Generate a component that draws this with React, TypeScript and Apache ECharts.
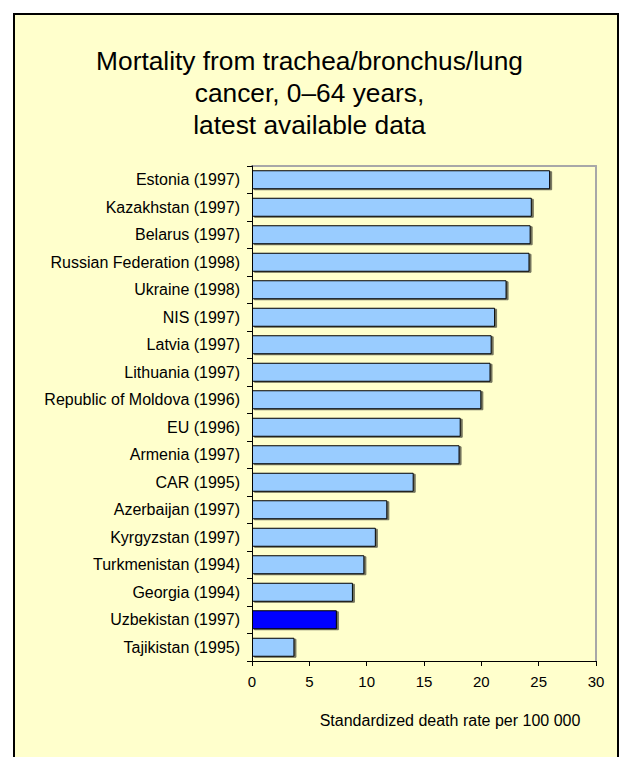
import React, { useEffect, useRef } from "react";
import * as echarts from "echarts";

const categories = [
  "Estonia (1997)",
  "Kazakhstan (1997)",
  "Belarus (1997)",
  "Russian Federation (1998)",
  "Ukraine (1998)",
  "NIS (1997)",
  "Latvia (1997)",
  "Lithuania (1997)",
  "Republic of Moldova (1996)",
  "EU (1996)",
  "Armenia (1997)",
  "CAR (1995)",
  "Azerbaijan (1997)",
  "Kyrgyzstan (1997)",
  "Turkmenistan (1994)",
  "Georgia (1994)",
  "Uzbekistan (1997)",
  "Tajikistan (1995)",
];
const values = [26.0, 24.4, 24.3, 24.2, 22.2, 21.2, 20.9, 20.8, 20.0, 18.2, 18.1, 14.1, 11.8, 10.8, 9.8, 8.8, 7.4, 3.7];
const highlighted = "Uzbekistan (1997)";
const xTicks = { min: 0, max: 30, interval: 5 };
const titleText = "Mortality from trachea/bronchus/lung\ncancer, 0\u201364 years,\nlatest available data";
const xAxisName = "Standardized death rate per 100 000";

const FONT = "'Liberation Sans', Arial, sans-serif";

export default function App() {
  const ref = useRef<HTMLDivElement>(null);
  useEffect(() => {
    document.body.style.margin = "0";
    if (!ref.current) return;
    const chart = echarts.init(ref.current, null, { renderer: "svg" });
    const data = categories.map((c, i) => ({
      value: values[i],
      itemStyle: c === highlighted ? { color: "#0000FF" } : undefined,
    }));
    chart.setOption({
      animation: false,
      backgroundColor: "#ffffff",
      graphic: [
        {
          type: "rect",
          z: -10,
          shape: { x: 14, y: 14, width: 604, height: 800 },
          style: { fill: "#FFFFCC", stroke: "#000000", lineWidth: 2 },
        },
      ],
      title: {
        text: titleText,
        left: "center",
        top: 45,
        padding: [0, 0, 0, 11],
        textStyle: {
          fontFamily: FONT,
          fontSize: 26.3,
          fontWeight: "normal",
          color: "#000000",
          lineHeight: 32,
          align: "center",
        },
      },
      grid: { left: 252, right: 23, top: 166, bottom: 96 },
      xAxis: [
        {
          type: "value",
          min: xTicks.min,
          max: xTicks.max,
          interval: xTicks.interval,
          position: "bottom",
          axisLine: { show: true, onZero: false, lineStyle: { color: "#000000", width: 1 } },
          axisTick: { show: true, inside: false, length: 5, lineStyle: { color: "#000000" } },
          axisLabel: { color: "#000000", fontFamily: FONT, fontSize: 15, margin: 13 },
          splitLine: { show: false },
          name: xAxisName,
          nameLocation: "middle",
          nameGap: 51,
          nameTextStyle: { color: "#000000", fontFamily: FONT, fontSize: 16, padding: [0, 0, 0, 52] },
          z: 5,
        },
        {
          type: "value",
          min: xTicks.min,
          max: xTicks.max,
          position: "top",
          axisLine: { show: true, onZero: false, lineStyle: { color: "#a8a8a8", width: 2 } },
          axisTick: { show: false },
          axisLabel: { show: false },
          splitLine: { show: false },
        },
      ],
      yAxis: [
        {
          type: "category",
          data: categories,
          inverse: true,
          position: "left",
          axisLine: { show: true, onZero: false, lineStyle: { color: "#000000", width: 1 } },
          axisTick: { show: true, inside: false, length: 5, lineStyle: { color: "#000000" } },
          axisLabel: { color: "#000000", fontFamily: FONT, fontSize: 16, margin: 12 },
          z: 5,
        },
        {
          type: "category",
          data: categories,
          inverse: true,
          position: "right",
          axisLine: { show: true, onZero: false, lineStyle: { color: "#a8a8a8", width: 2 } },
          axisTick: { show: false },
          axisLabel: { show: false },
        },
      ],
      series: [
        {
          type: "bar",
          xAxisIndex: 0,
          yAxisIndex: 0,
          data,
          barWidth: 19,
          itemStyle: {
            color: "#99CCFF",
            borderColor: "#000000",
            borderWidth: 1,
            shadowColor: "rgba(0,0,0,0.55)",
            shadowOffsetX: 2,
            shadowOffsetY: 1,
            shadowBlur: 0,
          },
        },
      ],
    });
    return () => chart.dispose();
  }, []);
  return <div ref={ref} style={{ width: 619, height: 757 }} />;
}
